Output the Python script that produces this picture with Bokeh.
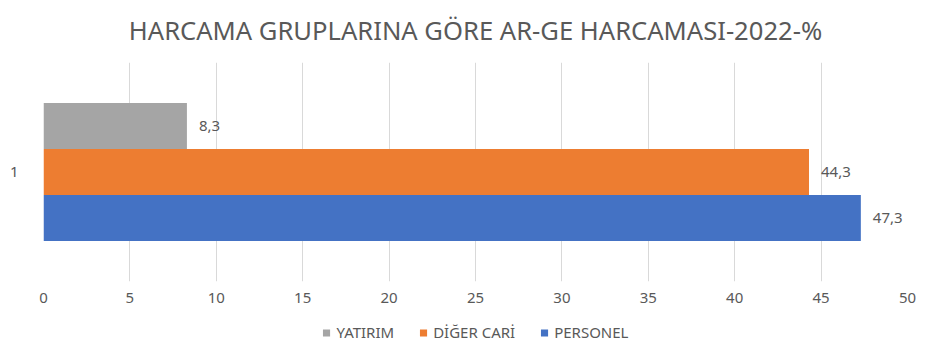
from bokeh.plotting import figure
from bokeh.layouts import column
from bokeh.models import ColumnDataSource, Range1d, FactorRange, Legend, LegendItem, FixedTicker, Label
from bokeh.transform import dodge
from bokeh.core.properties import value
from bokeh.embed import file_html
from bokeh.resources import INLINE

title_text = "HARCAMA GRUPLARINA GÖRE AR-GE HARCAMASI-2022-%"
category = ["1"]
series = ["YATIRIM", "DİĞER CARİ", "PERSONEL"]
values = [8.3, 44.3, 47.3]
colors = ["#A5A5A5", "#ED7D31", "#4472C4"]
x_ticks = [0, 5, 10, 15, 20, 25, 30, 35, 40, 45, 50]

FONT = "Noto Sans"
TXT = "#595959"
bar_h = 0.21

def strip(h, bottom=0):
    f = figure(width=941, height=h, output_backend="svg", toolbar_location=None,
               x_range=Range1d(0, 1), y_range=Range1d(0, 1), title_location=None,
               min_border_left=0, min_border_right=0, min_border_top=0, min_border_bottom=bottom)
    f.axis.visible = False
    f.grid.visible = False
    f.outline_line_color = None
    f.border_fill_color = "white"
    return f

# title strip
top = strip(62)
top.add_layout(Label(x=0.5, y=0.516, text=title_text, text_align="center", text_baseline="middle",
                     text_font=FONT, text_font_size="25.6px", text_color=TXT))

# main chart
p = figure(width=941, height=248, output_backend="svg", toolbar_location=None,
           x_range=Range1d(0, 50), y_range=FactorRange(*category, range_padding=0),
           title_location=None,
           min_border_left=43, min_border_right=34, min_border_top=0, min_border_bottom=29)
p.outline_line_color = None
p.background_fill_color = "white"
p.border_fill_color = "white"

for i, (name, v, c) in enumerate(zip(series, values, colors)):
    off = (1 - i) * bar_h
    src = ColumnDataSource(dict(cat=category, val=[v], lab=[f"{v:.1f}".replace(".", ",")]))
    p.hbar(y=dodge("cat", off, range=p.y_range), left=0, right="val", height=bar_h,
           source=src, fill_color=c, line_color=None)
    p.text(x="val", y=dodge("cat", off, range=p.y_range), text="lab", source=src,
           x_offset=12, text_align="left", text_baseline="middle",
           text_font=value(FONT), text_font_size="15px", text_color=TXT)

p.xaxis.ticker = FixedTicker(ticks=x_ticks)
for ax in (p.xaxis[0], p.yaxis[0]):
    ax.axis_line_color = None
    ax.major_tick_line_color = None
    ax.minor_tick_line_color = None
    ax.major_label_text_font = FONT
    ax.major_label_text_font_size = "15px"
    ax.major_label_text_color = TXT
p.xaxis.major_label_standoff = 5
p.yaxis.major_label_standoff = 19

p.xgrid.grid_line_color = "#d9d9d9"
p.xgrid.grid_line_width = 1
p.ygrid.grid_line_color = None

# legend strip below the chart
lg = strip(49, bottom=5)
items = []
for name, c in zip(series, colors):
    r = lg.hbar(y=[0.5], left=[0], right=[0], height=0.1, fill_color=c, line_color=None)
    items.append(LegendItem(label=name, renderers=[r]))
legend = Legend(items=items, orientation="horizontal", location="center",
                label_text_font=FONT, label_text_font_size="15px", label_text_color=TXT,
                glyph_width=9, glyph_height=9, label_standoff=6, spacing=24,
                border_line_color=None, background_fill_alpha=0, margin=0, padding=2)
lg.add_layout(legend)

layout = column(top, p, lg, spacing=0)
open("out.html", "w").write(file_html(layout, INLINE))
